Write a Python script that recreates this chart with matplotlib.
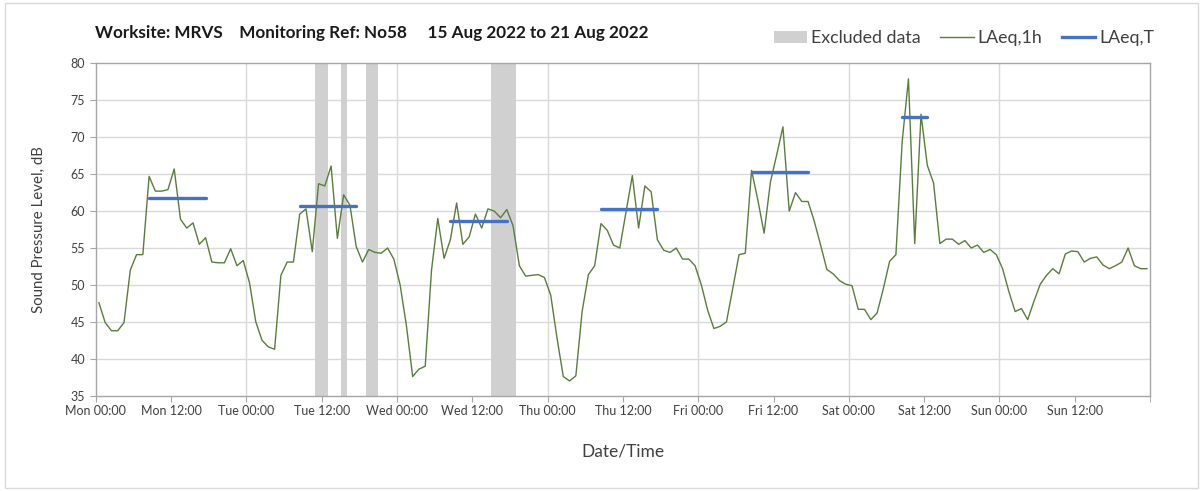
import numpy as np
import matplotlib.pyplot as plt
from matplotlib.patches import Patch, Rectangle
from matplotlib.lines import Line2D

plt.rcParams['font.family'] = ['Lato', 'DejaVu Sans']

# hourly LAeq,1h values, Mon 00:00 -> Sun 23:00 (15-21 Aug 2022)
laeq_1h = [
    47.6, 44.9, 43.8, 43.8, 44.9, 52.0, 54.1, 54.1, 64.7, 62.7, 62.7, 62.9,
    65.7, 58.9, 57.7, 58.4, 55.5, 56.4, 53.1, 53.0, 53.0, 54.9, 52.6, 53.3,
    50.3, 45.0, 42.5, 41.6, 41.3, 51.3, 53.1, 53.1, 59.6, 60.3, 54.5, 63.7,
    63.4, 66.1, 56.3, 62.2, 60.8, 55.2, 53.1, 54.8, 54.4, 54.3, 55.0, 53.5,
    50.0, 44.5, 37.6, 38.6, 39.0, 52.0, 59.0, 53.6, 56.1, 61.1, 55.5, 56.5,
    59.6, 57.7, 60.3, 60.0, 59.1, 60.2, 58.0, 52.6, 51.2, 51.3, 51.4, 51.0,
    48.6, 42.8, 37.6, 37.0, 37.7, 46.4, 51.4, 52.6, 58.3, 57.4, 55.4, 55.0,
    59.9, 64.8, 57.7, 63.4, 62.6, 56.1, 54.7, 54.4, 55.0, 53.5, 53.5, 52.6,
    50.0, 46.6, 44.1, 44.4, 45.0, 49.5, 54.1, 54.3, 65.5, 61.5, 57.0, 63.9,
    67.6, 71.4, 60.0, 62.5, 61.3, 61.3, 58.6, 55.4, 52.1, 51.5, 50.6, 50.1,
    49.9, 46.7, 46.7, 45.3, 46.2, 49.5, 53.2, 54.1, 69.4, 77.9, 55.6, 73.1,
    66.2, 63.8, 55.6, 56.2, 56.2, 55.5, 56.0, 55.0, 55.4, 54.4, 54.8, 54.1,
    52.2, 49.1, 46.4, 46.8, 45.3, 47.8, 50.1, 51.3, 52.2, 51.5, 54.2, 54.6,
    54.5, 53.1, 53.6, 53.8, 52.7, 52.2, 52.6, 53.1, 55.0, 52.6, 52.2, 52.2,
]

# LAeq,T periods: (first hour, last hour, level)
laeq_t_start = [8, 32, 56, 80, 104, 128]
laeq_t_end = [17, 41, 65, 89, 113, 132]
laeq_t_level = [61.8, 60.7, 58.6, 60.3, 65.3, 72.8]

# excluded periods, hours from Mon 00:00
excl_start = [35, 39, 43, 63]
excl_end = [37, 40, 45, 67]

tick_labels = ['Mon 00:00', 'Mon 12:00', 'Tue 00:00', 'Tue 12:00', 'Wed 00:00',
               'Wed 12:00', 'Thu 00:00', 'Thu 12:00', 'Fri 00:00', 'Fri 12:00',
               'Sat 00:00', 'Sat 12:00', 'Sun 00:00', 'Sun 12:00']

hours = np.arange(len(laeq_1h)) + 0.5

fig = plt.figure(figsize=(12.03, 4.91), dpi=100)
ax = fig.add_axes([0.0796, 0.194, 0.8764, 0.677])

fig.patches.append(Rectangle((5 / 1203, 3 / 491), 1193 / 1203, 485 / 491,
                             transform=fig.transFigure, fill=False,
                             edgecolor='#d9d9d9', linewidth=1))

for s, e in zip(excl_start, excl_end):
    ax.axvspan(s, e, color='#d0d0d0', lw=0, zorder=1)

ax.plot(hours, laeq_1h, color='#5a7d3c', lw=1.0, zorder=3)

for s, e, v in zip(laeq_t_start, laeq_t_end, laeq_t_level):
    ax.plot([s + 0.5, e + 0.5], [v, v], color='#4472c4', lw=2.4,
            solid_capstyle='round', zorder=4)

ax.set_xlim(0, 168)
ax.set_ylim(35, 80)
ax.set_xticks(np.arange(0, 168, 12))
ax.set_xticks([168], minor=True)
ax.set_xticklabels(tick_labels, fontsize=9, color='#404040')
ax.set_yticks(np.arange(35, 81, 5))
ax.tick_params(axis='y', labelsize=9, colors='#404040', length=4, color='#a6a6a6')
ax.tick_params(axis='x', which='both', length=4, color='#a6a6a6', pad=3)

# horizontal grid every 5 dB, vertical grid at midnight
for y in range(40, 80, 5):
    ax.axhline(y, color='#d9d9d9', lw=1, zorder=0)
for d in range(24, 168, 24):
    ax.axvline(d, color='#d9d9d9', lw=1, zorder=0)

for sp in ax.spines.values():
    sp.set_color('#a6a6a6')
    sp.set_linewidth(1)

ax.set_ylabel('Sound Pressure Level, dB', fontsize=10.8, color='#404040', labelpad=18)
ax.set_xlabel('Date/Time', fontsize=12.5, color='#404040', labelpad=19)

fig.text(95 / 1203, 1 - 33 / 491,
         'Worksite: MRVS    Monitoring Ref: No58     15 Aug 2022 to 21 Aug 2022',
         fontsize=12.3, fontweight='bold', va='center', ha='left', color='#1a1a1a')

handles = [Patch(facecolor='#d0d0d0', edgecolor='none'),
           Line2D([], [], color='#5a7d3c', lw=1.0),
           Line2D([], [], color='#4472c4', lw=2.4)]
fig.legend(handles, ['Excluded data', 'LAeq,1h', 'LAeq,T'],
           loc='center right', bbox_to_anchor=(1170 / 1203, 1 - 38 / 491),
           ncol=3, frameon=False, fontsize=12.8, handlelength=1.9,
           handletextpad=0.2, columnspacing=1.1, labelcolor='#404040')

fig.savefig('out.png', dpi=100)
